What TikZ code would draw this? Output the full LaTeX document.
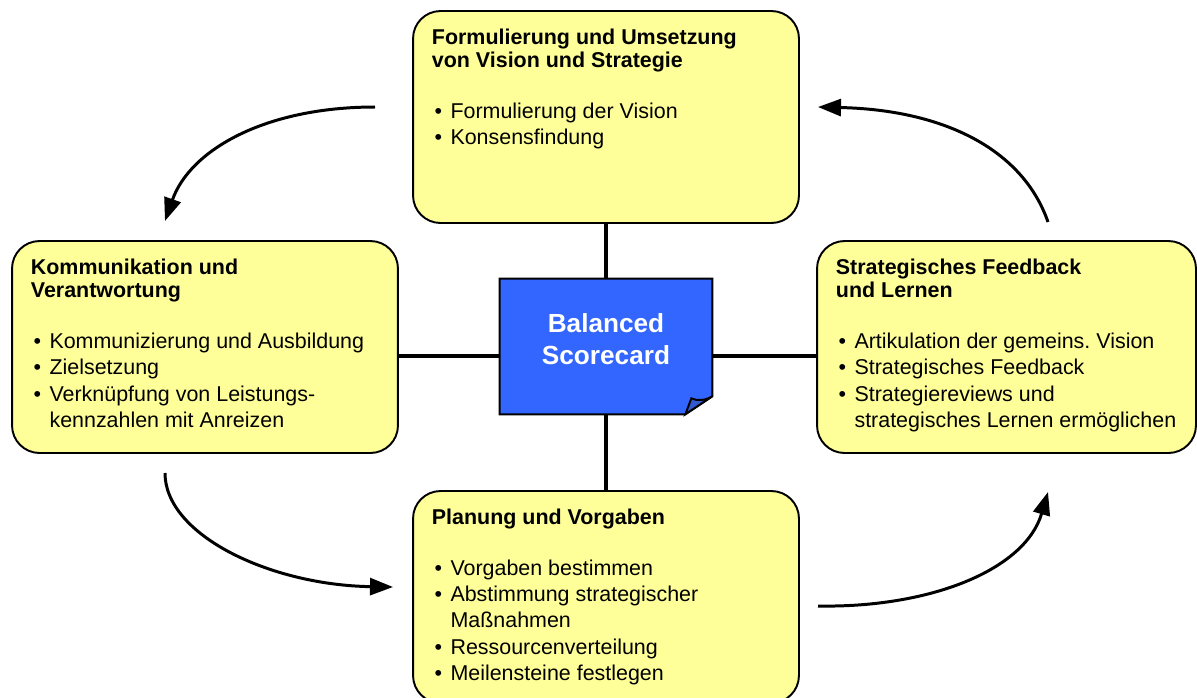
\documentclass[tikz,border=0pt]{standalone}
\usepackage{fontspec}
\setmainfont{Liberation Sans}
\usetikzlibrary{arrows.meta,positioning}
\definecolor{hellgelb}{HTML}{FFFF99}
\definecolor{bscblau}{HTML}{3366FF}
\definecolor{knickblau}{HTML}{3358D0}
\newcommand{\pkt}{\makebox[10.6pt][l]{\hspace{1.5pt}\textbullet}}
\newcommand{\einr}{\hspace*{10.6pt}}
\frenchspacing
\begin{document}
\begin{tikzpicture}
[x=0.02cm, y=-0.02cm,
 feld/.style={draw, line width=1.1pt, fill=hellgelb, rounded corners=0.55cm, minimum width=7.72cm, minimum height=4.24cm, inner sep=0pt},
 inhalt/.style={anchor=north west, inner sep=0pt, align=left, font=\fontsize{12.2pt}{15pt}\selectfont, xshift=0.39cm, yshift=-0.37cm},
 rand/.style={draw, line width=1.1pt},
 linie/.style={line width=1.9pt},
 pfeil/.style={line width=1.7pt, -{Triangle[length=0.46cm, width=0.34cm]}}]
\useasboundingbox (0,0) rectangle (1197,697);
\node [feld] (vision) at (606,117) {};
\node [feld] (kommunikation) at (205,347) {};
\node [feld, minimum width=7.58cm] (feedback) at (1006.5,347) {};
\node [feld] (planung) at (606,597) {};
\node [minimum width=4.24cm, minimum height=2.7cm, inner sep=0pt] (bsc) at (606,346.5) {};
\coordinate (hl) at (606,356);
\draw [linie] (vision) -- (bsc);
\draw [linie] (bsc) -- (planung);
\draw [linie] (kommunikation.east |- hl) -- (bsc.west |- hl);
\draw [linie] (bsc.east |- hl) -- (feedback.west |- hl);
\coordinate (knick-u) at ([xshift=-0.54cm]bsc.south east);
\coordinate (knick-r) at ([yshift=0.36cm]bsc.south east);
\draw [rand, fill=bscblau] (bsc.north west) -- (bsc.north east) -- (knick-r) -- (knick-u) -- (bsc.south west) -- cycle;
\draw [rand, fill=knickblau] (knick-u) -- ++(6,-16) .. controls +(6,3) and +(-7,4) .. (knick-r) -- cycle;
\node [anchor=north, inner sep=0pt, align=center, text=white, font=\fontsize{14.9pt}{18.2pt}\selectfont\bfseries] (bsc-text) at ([yshift=-0.7cm]bsc.north) {Balanced\\Scorecard};
\node [inhalt] (vision-text) at (vision.north west) {\textbf{Formulierung und Umsetzung}\\[-1.8pt]\textbf{von Vision und Strategie}\\[13.9pt]\pkt Formulierung der Vision\\\pkt Konsensfindung};
\node [inhalt] (kommunikation-text) at (kommunikation.north west) {\textbf{Kommunikation und}\\[-1.8pt]\textbf{Verantwortung}\\[13.9pt]\pkt Kommunizierung und Ausbildung\\\pkt Zielsetzung\\\pkt Verknüpfung von Leistungs-\\\einr kennzahlen mit Anreizen};
\node [inhalt] (feedback-text) at (feedback.north west) {\textbf{Strategisches Feedback}\\[-1.8pt]\textbf{und Lernen}\\[13.9pt]\pkt Artikulation der gemeins. Vision\\\pkt Strategisches Feedback\\\pkt Strategiereviews und\\\einr strategisches Lernen ermöglichen};
\node [inhalt] (planung-text) at (planung.north west) {\textbf{Planung und Vorgaben}\\[13.9pt]\pkt Vorgaben bestimmen\\\pkt Abstimmung strategischer\\\einr Maßnahmen\\\pkt Ressourcenverteilung\\\pkt Meilensteine festlegen};
\coordinate (a1) at (375,107);
\coordinate (e1) at (165,221);
\coordinate (a2) at (165,473);
\coordinate (e2) at (393,587);
\coordinate (a3) at (818,606);
\coordinate (e3) at (1048,492);
\coordinate (a4) at (1048,222);
\coordinate (e4) at (818,107);
\draw [pfeil] (a1) .. controls (265,107) and (190,150) .. (e1);
\draw [pfeil] (a2) .. controls (165,535) and (270,585) .. (e2);
\draw [pfeil] (a3) .. controls (930,608) and (1025,570) .. (e3);
\draw [pfeil] (a4) .. controls (1023,150) and (945,110) .. (e4);
\end{tikzpicture}
\end{document}
